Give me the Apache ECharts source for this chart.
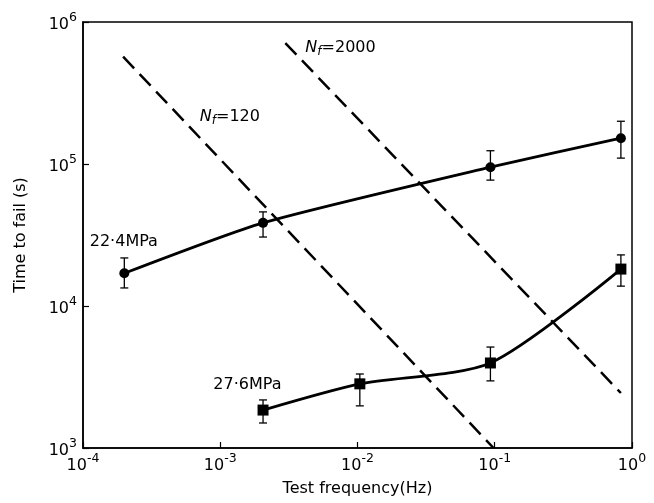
<!DOCTYPE html>
<html><head><meta charset="utf-8">
<script src="https://cdn.jsdelivr.net/npm/echarts@6/dist/echarts.min.js"></script>
<style>html,body{margin:0;padding:0;background:#fff}#c{width:654px;height:503px}</style>
</head><body><div id="c"></div>
<script>
// ---- data ----
const freq224 = [2.0e-4, 2.05e-3, 0.093, 0.83];
const time224 = [1.7e4, 3.85e4, 9.5e4, 1.52e5];
const low224  = [1.34e4, 3.06e4, 7.7e4, 1.10e5];
const high224 = [2.18e4, 4.6e4, 1.24e5, 2.0e5];

const freq276 = [2.05e-3, 0.0104, 0.093, 0.83];
const time276 = [1.85e3, 2.83e3, 3.97e3, 1.82e4];
const low276  = [1.5e3, 1.98e3, 2.97e3, 1.38e4];
const high276 = [2.18e3, 3.32e3, 5.14e3, 2.29e4];

const nf120Freq = [1.96e-4, 0.098];
const nf120Time = [5.7e5, 1.0e3];
const nf2000Freq = [2.98e-3, 0.83];
const nf2000Time = [7.1e5, 2.44e3];

const xTickExponents = [-4, -3, -2, -1, 0];
const yTickExponents = [3, 4, 5, 6];

const labelTexts = ['22·4MPa', '27·6MPa', '{i|N}{sub|f}{n|=120}', '{i|N}{sub|f}{n|=2000}'];
const labelFreq  = [1.12e-4, 8.9e-4, 7.1e-4, 4.17e-3];
const labelTime  = [2.83e4, 2.78e3, 2.14e5, 6.56e5];

// ---- chart ----
const FONT = 'DejaVu Sans';
const zip = (a, b) => a.map((v, i) => [v, b[i]]);
const expLabel = v => '{b|10}{s|' + Math.round(Math.log10(v)) + '}';
const tickRich = {
  b: {fontFamily: FONT, fontSize: 16, color: '#000', lineHeight: 22, verticalAlign: 'bottom'},
  s: {fontFamily: FONT, fontSize: 12.5, color: '#000', lineHeight: 12, verticalAlign: 'top'}
};

function errSeries(fx, lo, hi) {
  return {
    type: 'custom',
    data: fx.map((f, i) => [f, lo[i], hi[i]]),
    z: 3,
    renderItem: (params, api) => {
      const a = api.coord([api.value(0), api.value(1)]);
      const b = api.coord([api.value(0), api.value(2)]);
      const w = 4;
      const st = {stroke: '#000', lineWidth: 1.3, fill: null};
      return {type: 'group', children: [
        {type: 'line', shape: {x1: a[0], y1: a[1], x2: b[0], y2: b[1]}, style: st},
        {type: 'line', shape: {x1: a[0]-w, y1: a[1], x2: a[0]+w, y2: a[1]}, style: st},
        {type: 'line', shape: {x1: b[0]-w, y1: b[1], x2: b[0]+w, y2: b[1]}, style: st}
      ]};
    }
  };
}

const chart = echarts.init(document.getElementById('c'), null, {renderer: 'canvas'});
chart.setOption({
  animation: false,
  backgroundColor: '#fff',
  grid: {left: 83, right: 22, top: 22, bottom: 55, show: true, borderColor: '#000', borderWidth: 1.5, backgroundColor: 'transparent'},
  xAxis: {
    type: 'log', logBase: 10, min: Math.pow(10, xTickExponents[0]), max: Math.pow(10, xTickExponents[xTickExponents.length-1]),
    interval: 1,
    name: 'Test frequency(Hz)', nameLocation: 'middle', nameGap: 33,
    nameTextStyle: {fontFamily: FONT, fontSize: 16, color: '#000'},
    axisLine: {lineStyle: {color: '#000', width: 1.5}},
    axisTick: {inside: true, length: 6, lineStyle: {color: '#000', width: 1.2}},
    minorTick: {show: false},
    splitLine: {show: false},
    axisLabel: {formatter: expLabel, rich: tickRich, margin: 4}
  },
  yAxis: {
    type: 'log', logBase: 10, min: Math.pow(10, yTickExponents[0]), max: Math.pow(10, yTickExponents[yTickExponents.length-1]),
    interval: 1,
    name: 'Time to fail (s)', nameLocation: 'middle', nameGap: 54,
    nameTextStyle: {fontFamily: FONT, fontSize: 16, color: '#000'},
    axisLine: {lineStyle: {color: '#000', width: 1.5}},
    axisTick: {inside: true, length: 6, lineStyle: {color: '#000', width: 1.2}},
    splitLine: {show: false},
    axisLabel: {formatter: expLabel, rich: tickRich, margin: 6}
  },
  series: [
    {type: 'line', data: zip(nf120Freq, nf120Time), symbol: 'none', z: 1,
     lineStyle: {color: '#000', width: 2.5, type: [16, 8]}},
    {type: 'line', data: zip(nf2000Freq, nf2000Time), symbol: 'none', z: 1,
     lineStyle: {color: '#000', width: 2.5, type: [16, 8]}},
    {type: 'line', data: zip(freq224, time224), smooth: 0.2, symbol: 'circle', symbolSize: 10, z: 4,
     itemStyle: {color: '#000'}, lineStyle: {color: '#000', width: 2.8}},
    {type: 'line', data: zip(freq276, time276), smooth: 0.25, symbol: 'rect', symbolSize: 11, z: 4,
     itemStyle: {color: '#000'}, lineStyle: {color: '#000', width: 2.8}},
    errSeries(freq224, low224, high224),
    errSeries(freq276, low276, high276)
  ]
});

const annRich = {
  i: {fontFamily: FONT, fontStyle: 'italic', fontSize: 16, color: '#000', verticalAlign: 'middle'},
  sub: {fontFamily: FONT, fontStyle: 'italic', fontSize: 12, color: '#000', verticalAlign: 'bottom', padding: [8, 0, 0, 0]},
  n: {fontFamily: FONT, fontSize: 16, color: '#000', verticalAlign: 'middle'}
};
chart.setOption({
  graphic: labelTexts.map((t, i) => {
    const p = chart.convertToPixel({gridIndex: 0}, [labelFreq[i], labelTime[i]]);
    return {type: 'text', x: p[0], y: p[1], z: 10,
      style: {text: t, rich: annRich, fontFamily: FONT, fontSize: 16, fill: '#000', verticalAlign: 'middle', align: 'left'}};
  })
});
</script></body></html>
